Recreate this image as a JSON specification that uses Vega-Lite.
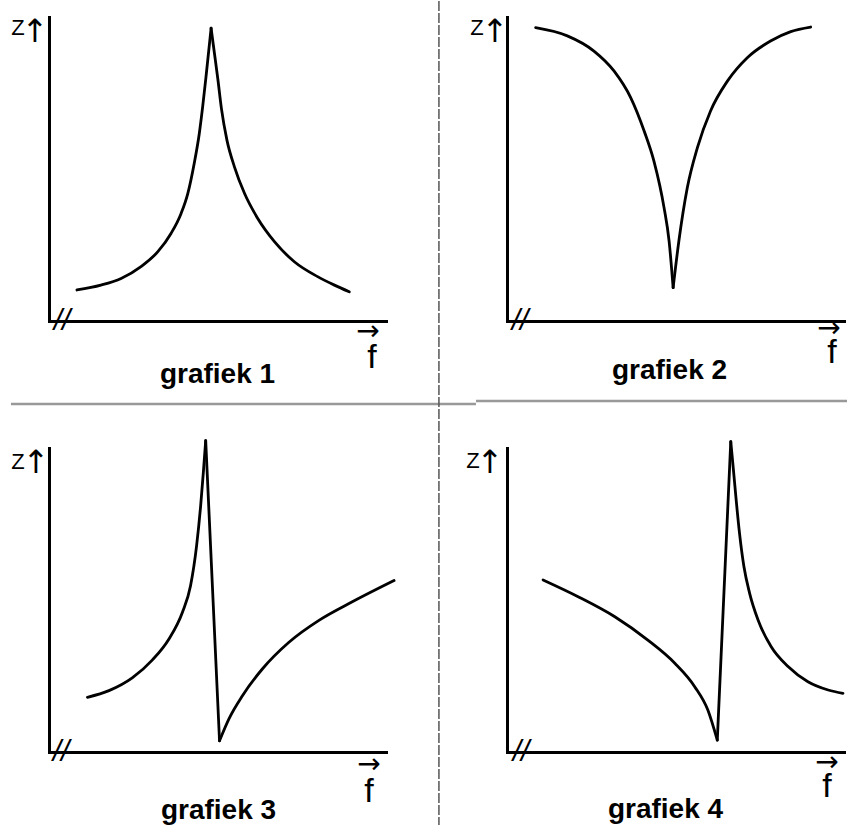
{
  "$schema": "https://vega.github.io/schema/vega-lite/v6.json",
  "padding": {"left": 9, "top": 0, "right": 0, "bottom": 0},
  "background": "white",
  "config": {
    "view": {"stroke": null},
    "font": "Liberation Sans",
    "text": {"color": "black", "font": "Liberation Sans"},
    "axis": {"ticks": false, "labels": false, "grid": false, "domainColor": "black", "domainWidth": 3, "domainCap": "square"}
  },
  "datasets": {
    "curves": [
      {"g": 1, "s": "a", "f": 8.3, "Z": 10.2}, {"g": 1, "s": "a", "f": 15.4, "Z": 11.8}, {"g": 1, "s": "a", "f": 21.4, "Z": 14.0}, {"g": 1, "s": "a", "f": 27.3, "Z": 17.9},
      {"g": 1, "s": "a", "f": 32.3, "Z": 22.8}, {"g": 1, "s": "a", "f": 36.2, "Z": 28.8}, {"g": 1, "s": "a", "f": 39.2, "Z": 35.4}, {"g": 1, "s": "a", "f": 41.2, "Z": 42.0},
      {"g": 1, "s": "a", "f": 43.1, "Z": 51.9}, {"g": 1, "s": "a", "f": 44.6, "Z": 61.7}, {"g": 1, "s": "a", "f": 45.6, "Z": 70.5}, {"g": 1, "s": "a", "f": 46.7, "Z": 81.5},
      {"g": 1, "s": "a", "f": 48.1, "Z": 96.3},
      {"g": 1, "s": "b", "f": 48.1, "Z": 96.3}, {"g": 1, "s": "b", "f": 49.1, "Z": 88.0}, {"g": 1, "s": "b", "f": 50.1, "Z": 79.6}, {"g": 1, "s": "b", "f": 51.2, "Z": 69.6},
      {"g": 1, "s": "b", "f": 52.8, "Z": 59.5}, {"g": 1, "s": "b", "f": 55.0, "Z": 50.8}, {"g": 1, "s": "b", "f": 58.0, "Z": 42.0}, {"g": 1, "s": "b", "f": 61.9, "Z": 33.8},
      {"g": 1, "s": "b", "f": 66.9, "Z": 26.1}, {"g": 1, "s": "b", "f": 72.8, "Z": 19.5}, {"g": 1, "s": "b", "f": 79.7, "Z": 14.6}, {"g": 1, "s": "b", "f": 84.7, "Z": 11.8},
      {"g": 1, "s": "b", "f": 89.1, "Z": 9.6},
      {"g": 2, "s": "a", "f": 8.5, "Z": 96.5}, {"g": 2, "s": "a", "f": 17.9, "Z": 93.8}, {"g": 2, "s": "a", "f": 25.8, "Z": 88.8}, {"g": 2, "s": "a", "f": 31.8, "Z": 82.2},
      {"g": 2, "s": "a", "f": 36.7, "Z": 73.5}, {"g": 2, "s": "a", "f": 40.7, "Z": 62.5}, {"g": 2, "s": "a", "f": 43.6, "Z": 52.6}, {"g": 2, "s": "a", "f": 46.6, "Z": 37.3},
      {"g": 2, "s": "a", "f": 48.1, "Z": 26.3}, {"g": 2, "s": "a", "f": 49.3, "Z": 11.0},
      {"g": 2, "s": "b", "f": 49.3, "Z": 11.0}, {"g": 2, "s": "b", "f": 51.0, "Z": 26.3}, {"g": 2, "s": "b", "f": 53.5, "Z": 43.8},
      {"g": 2, "s": "b", "f": 56.5, "Z": 57.0}, {"g": 2, "s": "b", "f": 60.4, "Z": 69.1}, {"g": 2, "s": "b", "f": 65.4, "Z": 78.9}, {"g": 2, "s": "b", "f": 71.3, "Z": 86.6},
      {"g": 2, "s": "b", "f": 78.2, "Z": 92.1}, {"g": 2, "s": "b", "f": 84.2, "Z": 95.2}, {"g": 2, "s": "b", "f": 90.1, "Z": 96.7},
      {"g": 3, "s": "a", "f": 11.4, "Z": 18.0}, {"g": 3, "s": "a", "f": 17.8, "Z": 20.2}, {"g": 3, "s": "a", "f": 24.7, "Z": 24.4}, {"g": 3, "s": "a", "f": 30.7, "Z": 30.3},
      {"g": 3, "s": "a", "f": 35.6, "Z": 37.2}, {"g": 3, "s": "a", "f": 39.6, "Z": 46.0}, {"g": 3, "s": "a", "f": 42.0, "Z": 54.7}, {"g": 3, "s": "a", "f": 43.8, "Z": 67.9},
      {"g": 3, "s": "a", "f": 45.0, "Z": 81.0}, {"g": 3, "s": "a", "f": 45.8, "Z": 92.0}, {"g": 3, "s": "a", "f": 46.5, "Z": 102.4},
      {"g": 3, "s": "b", "f": 46.5, "Z": 102.4}, {"g": 3, "s": "b", "f": 50.6, "Z": 3.7},
      {"g": 3, "s": "c", "f": 50.6, "Z": 3.7},
      {"g": 3, "s": "c", "f": 53.4, "Z": 10.9}, {"g": 3, "s": "c", "f": 57.4, "Z": 18.5}, {"g": 3, "s": "c", "f": 63.3, "Z": 27.3}, {"g": 3, "s": "c", "f": 71.2, "Z": 36.1},
      {"g": 3, "s": "c", "f": 80.1, "Z": 43.3}, {"g": 3, "s": "c", "f": 90.0, "Z": 49.4}, {"g": 3, "s": "c", "f": 102.4, "Z": 56.4},
      {"g": 4, "s": "a", "f": 10.7, "Z": 56.6}, {"g": 4, "s": "a", "f": 21.1, "Z": 51.1}, {"g": 4, "s": "a", "f": 32.0, "Z": 44.5}, {"g": 4, "s": "a", "f": 41.8, "Z": 36.8},
      {"g": 4, "s": "a", "f": 49.8, "Z": 29.2}, {"g": 4, "s": "a", "f": 55.7, "Z": 21.5}, {"g": 4, "s": "a", "f": 59.6, "Z": 13.8}, {"g": 4, "s": "a", "f": 62.4, "Z": 3.9},
      {"g": 4, "s": "b", "f": 62.4, "Z": 3.9}, {"g": 4, "s": "b", "f": 66.4, "Z": 102.1},
      {"g": 4, "s": "c", "f": 66.4, "Z": 102.1}, {"g": 4, "s": "c", "f": 67.1, "Z": 93.9}, {"g": 4, "s": "c", "f": 68.0, "Z": 82.9}, {"g": 4, "s": "c", "f": 69.0, "Z": 71.9},
      {"g": 4, "s": "c", "f": 70.3, "Z": 61.0}, {"g": 4, "s": "c", "f": 72.0, "Z": 52.2}, {"g": 4, "s": "c", "f": 74.5, "Z": 43.4}, {"g": 4, "s": "c", "f": 78.4, "Z": 34.6},
      {"g": 4, "s": "c", "f": 83.4, "Z": 28.1}, {"g": 4, "s": "c", "f": 89.3, "Z": 23.1}, {"g": 4, "s": "c", "f": 95.3, "Z": 20.4}, {"g": 4, "s": "c", "f": 99.7, "Z": 19.3}
    ],
    "dividers": [
      {"g": 1, "kind": "h", "f": -11.3, "f2": 126.7, "Z": -27.3, "Z2": -27.3},
      {"g": 2, "kind": "h", "f": -9.2, "f2": 101.2, "Z": -26.3, "Z2": -26.3},
      {"g": 2, "kind": "v", "f": -20.2, "f2": -20.2, "Z": 105.3, "Z2": -165.8}
    ]
  },
  "columns": 2,
  "spacing": {"row": 127, "column": 121},
  "bounds": "flush",
  "concat": [
    {
      "width": 337, "height": 304,
      "layer": [
        {"data": {"name": "dividers"}, "transform": [{"filter": "datum.g === 1"}],
         "mark": {"type": "rule", "color": "#999999", "strokeWidth": 2.5},
         "encoding": {"x": {"field": "f", "type": "quantitative", "scale": {"domain": [0, 100], "nice": false, "zero": false}, "axis": {"title": null}}, "x2": {"field": "f2"}, "y": {"field": "Z", "type": "quantitative", "scale": {"domain": [0, 100], "nice": false, "zero": false}, "axis": {"title": null}}, "y2": {"field": "Z2"}}},
        {"data": {"name": "curves"}, "transform": [{"filter": "datum.g === 1"}],
         "mark": {"type": "line", "color": "black", "strokeWidth": 2.8, "strokeJoin": "round", "strokeCap": "round", "interpolate": "monotone"},
         "encoding": {"x": {"field": "f", "type": "quantitative"}, "y": {"field": "Z", "type": "quantitative"}, "detail": {"field": "s"}}},
        {"data": {"values": [{}]}, "mark": {"type": "text", "text": "Z", "fontSize": 22, "color": "black", "dx": -31, "dy": 11, "align": "center", "baseline": "middle"}, "encoding": {"x": {"datum": 0}, "y": {"datum": 100}}},
        {"data": {"values": [{}]}, "mark": {"type": "text", "text": "↑", "font": "DejaVu Sans", "fontSize": 32, "color": "black", "dx": -14, "dy": 15, "align": "center", "baseline": "middle"}, "encoding": {"x": {"datum": 0}, "y": {"datum": 100}}},
        {"data": {"values": [{}]}, "mark": {"type": "text", "text": "→", "font": "DejaVu Sans", "fontSize": 28, "color": "black", "dx": -18, "dy": 11, "align": "center", "baseline": "middle"}, "encoding": {"x": {"datum": 100}, "y": {"datum": 0}}},
        {"data": {"values": [{}]}, "mark": {"type": "text", "text": "f", "fontSize": 34, "color": "black", "dx": -14, "dy": 37, "align": "center", "baseline": "middle"}, "encoding": {"x": {"datum": 100}, "y": {"datum": 0}}},
        {"data": {"values": [{}]}, "mark": {"type": "text", "text": "//", "fontSize": 30, "fontStyle": "italic", "color": "black", "dx": 13, "dy": 0, "align": "center", "baseline": "middle"}, "encoding": {"x": {"datum": 0}, "y": {"datum": 0}}},
        {"data": {"values": [{}]}, "mark": {"type": "text", "text": "grafiek 1", "fontSize": 28, "fontWeight": "bold", "color": "black", "dx": 0, "dy": 62, "align": "center", "baseline": "alphabetic"}, "encoding": {"x": {"datum": 50}, "y": {"datum": 0}}}
      ]
    },
    {
      "width": 337, "height": 304,
      "layer": [
        {"data": {"name": "dividers"}, "transform": [{"filter": "datum.g === 2 && datum.kind === 'h'"}],
         "mark": {"type": "rule", "color": "#999999", "strokeWidth": 2.5},
         "encoding": {"x": {"field": "f", "type": "quantitative", "scale": {"domain": [0, 100], "nice": false, "zero": false}, "axis": {"title": null}}, "x2": {"field": "f2"}, "y": {"field": "Z", "type": "quantitative", "scale": {"domain": [0, 100], "nice": false, "zero": false}, "axis": {"title": null}}, "y2": {"field": "Z2"}}},
        {"data": {"name": "dividers"}, "transform": [{"filter": "datum.g === 2 && datum.kind === 'v'"}],
         "mark": {"type": "rule", "color": "#555555", "strokeWidth": 1.5, "strokeDash": [10, 2]},
         "encoding": {"x": {"field": "f", "type": "quantitative"}, "x2": {"field": "f2"}, "y": {"field": "Z", "type": "quantitative"}, "y2": {"field": "Z2"}}},
        {"data": {"name": "curves"}, "transform": [{"filter": "datum.g === 2"}],
         "mark": {"type": "line", "color": "black", "strokeWidth": 2.8, "strokeJoin": "round", "strokeCap": "round", "interpolate": "monotone"},
         "encoding": {"x": {"field": "f", "type": "quantitative"}, "y": {"field": "Z", "type": "quantitative"}, "detail": {"field": "s"}}},
        {"data": {"values": [{}]}, "mark": {"type": "text", "text": "Z", "fontSize": 22, "color": "black", "dx": -30, "dy": 11, "align": "center", "baseline": "middle"}, "encoding": {"x": {"datum": 0}, "y": {"datum": 100}}},
        {"data": {"values": [{}]}, "mark": {"type": "text", "text": "↑", "font": "DejaVu Sans", "fontSize": 32, "color": "black", "dx": -12, "dy": 15, "align": "center", "baseline": "middle"}, "encoding": {"x": {"datum": 0}, "y": {"datum": 100}}},
        {"data": {"values": [{}]}, "mark": {"type": "text", "text": "→", "font": "DejaVu Sans", "fontSize": 28, "color": "black", "dx": -15, "dy": 8, "align": "center", "baseline": "middle"}, "encoding": {"x": {"datum": 100}, "y": {"datum": 0}}},
        {"data": {"values": [{}]}, "mark": {"type": "text", "text": "f", "fontSize": 34, "color": "black", "dx": -12, "dy": 32, "align": "center", "baseline": "middle"}, "encoding": {"x": {"datum": 100}, "y": {"datum": 0}}},
        {"data": {"values": [{}]}, "mark": {"type": "text", "text": "//", "fontSize": 30, "fontStyle": "italic", "color": "black", "dx": 13, "dy": 0, "align": "center", "baseline": "middle"}, "encoding": {"x": {"datum": 0}, "y": {"datum": 0}}},
        {"data": {"values": [{}]}, "mark": {"type": "text", "text": "grafiek 2", "fontSize": 28, "fontWeight": "bold", "color": "black", "dx": -6, "dy": 58, "align": "center", "baseline": "alphabetic"}, "encoding": {"x": {"datum": 50}, "y": {"datum": 0}}}
      ]
    },
    {
      "width": 337, "height": 304,
      "layer": [
        {"data": {"name": "curves"}, "transform": [{"filter": "datum.g === 3"}],
         "mark": {"type": "line", "color": "black", "strokeWidth": 2.8, "strokeJoin": "round", "strokeCap": "round", "interpolate": "monotone"},
         "encoding": {"x": {"field": "f", "type": "quantitative", "scale": {"domain": [0, 100], "nice": false, "zero": false}, "axis": {"title": null}}, "y": {"field": "Z", "type": "quantitative", "scale": {"domain": [0, 100], "nice": false, "zero": false}, "axis": {"title": null}}, "detail": {"field": "s"}}},
        {"data": {"values": [{}]}, "mark": {"type": "text", "text": "Z", "fontSize": 22, "color": "black", "dx": -31, "dy": 14, "align": "center", "baseline": "middle"}, "encoding": {"x": {"datum": 0}, "y": {"datum": 100}}},
        {"data": {"values": [{}]}, "mark": {"type": "text", "text": "↑", "font": "DejaVu Sans", "fontSize": 32, "color": "black", "dx": -13, "dy": 15, "align": "center", "baseline": "middle"}, "encoding": {"x": {"datum": 0}, "y": {"datum": 100}}},
        {"data": {"values": [{}]}, "mark": {"type": "text", "text": "→", "font": "DejaVu Sans", "fontSize": 28, "color": "black", "dx": -17, "dy": 13, "align": "center", "baseline": "middle"}, "encoding": {"x": {"datum": 100}, "y": {"datum": 0}}},
        {"data": {"values": [{}]}, "mark": {"type": "text", "text": "f", "fontSize": 34, "color": "black", "dx": -17, "dy": 40, "align": "center", "baseline": "middle"}, "encoding": {"x": {"datum": 100}, "y": {"datum": 0}}},
        {"data": {"values": [{}]}, "mark": {"type": "text", "text": "//", "fontSize": 30, "fontStyle": "italic", "color": "black", "dx": 12, "dy": 0, "align": "center", "baseline": "middle"}, "encoding": {"x": {"datum": 0}, "y": {"datum": 0}}},
        {"data": {"values": [{}]}, "mark": {"type": "text", "text": "grafiek 3", "fontSize": 28, "fontWeight": "bold", "color": "black", "dx": 1, "dy": 67, "align": "center", "baseline": "alphabetic"}, "encoding": {"x": {"datum": 50}, "y": {"datum": 0}}}
      ]
    },
    {
      "width": 337, "height": 304,
      "layer": [
        {"data": {"name": "curves"}, "transform": [{"filter": "datum.g === 4"}],
         "mark": {"type": "line", "color": "black", "strokeWidth": 2.8, "strokeJoin": "round", "strokeCap": "round", "interpolate": "monotone"},
         "encoding": {"x": {"field": "f", "type": "quantitative", "scale": {"domain": [0, 100], "nice": false, "zero": false}, "axis": {"title": null}}, "y": {"field": "Z", "type": "quantitative", "scale": {"domain": [0, 100], "nice": false, "zero": false}, "axis": {"title": null}}, "detail": {"field": "s"}}},
        {"data": {"values": [{}]}, "mark": {"type": "text", "text": "Z", "fontSize": 22, "color": "black", "dx": -34, "dy": 13, "align": "center", "baseline": "middle"}, "encoding": {"x": {"datum": 0}, "y": {"datum": 100}}},
        {"data": {"values": [{}]}, "mark": {"type": "text", "text": "↑", "font": "DejaVu Sans", "fontSize": 32, "color": "black", "dx": -17, "dy": 15, "align": "center", "baseline": "middle"}, "encoding": {"x": {"datum": 0}, "y": {"datum": 100}}},
        {"data": {"values": [{}]}, "mark": {"type": "text", "text": "→", "font": "DejaVu Sans", "fontSize": 28, "color": "black", "dx": -17, "dy": 11, "align": "center", "baseline": "middle"}, "encoding": {"x": {"datum": 100}, "y": {"datum": 0}}},
        {"data": {"values": [{}]}, "mark": {"type": "text", "text": "f", "fontSize": 34, "color": "black", "dx": -17, "dy": 35, "align": "center", "baseline": "middle"}, "encoding": {"x": {"datum": 100}, "y": {"datum": 0}}},
        {"data": {"values": [{}]}, "mark": {"type": "text", "text": "//", "fontSize": 30, "fontStyle": "italic", "color": "black", "dx": 14, "dy": 0, "align": "center", "baseline": "middle"}, "encoding": {"x": {"datum": 0}, "y": {"datum": 0}}},
        {"data": {"values": [{}]}, "mark": {"type": "text", "text": "grafiek 4", "fontSize": 28, "fontWeight": "bold", "color": "black", "dx": -10, "dy": 66, "align": "center", "baseline": "alphabetic"}, "encoding": {"x": {"datum": 50}, "y": {"datum": 0}}}
      ]
    }
  ]
}
